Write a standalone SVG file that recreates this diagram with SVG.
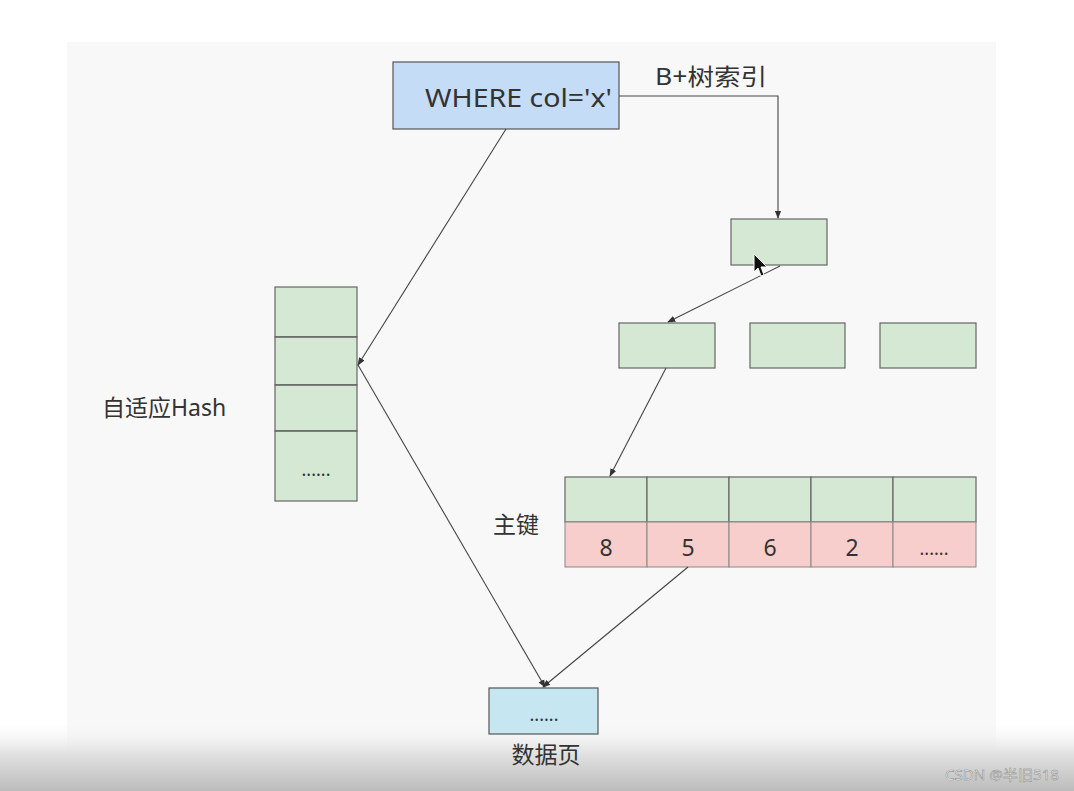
<svg xmlns="http://www.w3.org/2000/svg" width="1074" height="791" viewBox="0 0 1074 791">
<defs>
<linearGradient id="bot" x1="0" y1="0" x2="0" y2="1">
<stop offset="0" stop-color="#f8f8f8" stop-opacity="0"/>
<stop offset="0.45" stop-color="#e2e2e2"/>
<stop offset="1" stop-color="#bcbcbc"/>
</linearGradient>
<marker id="arr" viewBox="0 0 10 10" refX="9" refY="5" markerWidth="8" markerHeight="8" orient="auto" markerUnits="userSpaceOnUse">
<path d="M0,1 L10,5 L0,9 Z" fill="#333"/>
</marker>
<style>
.t{font-family:"Noto Sans","Noto Sans CJK SC",sans-serif;fill:#333;}
.g{fill:#d5e8d4;stroke:#666;stroke-width:1.2;}
.p{fill:#f8cecc;stroke:#888;stroke-width:1;}
.c{fill:none;stroke:#444;stroke-width:1.1;}
</style>
</defs>
<rect x="0" y="0" width="1074" height="791" fill="#ffffff"/>
<rect x="67" y="42" width="929" height="749" fill="#f8f8f8"/>
<rect x="0" y="722" width="1074" height="69" fill="url(#bot)"/>

<g id="where">
<rect x="393" y="62" width="226" height="67" fill="#c5dcf6" stroke="#555" stroke-width="1.2"/>
<text class="t" x="425" y="107" font-size="25" textLength="187" lengthAdjust="spacingAndGlyphs" fill="#2a3440">WHERE col='x'</text>
</g>
<g id="blabel"><text class="t" x="655" y="85" font-size="23" textLength="112" lengthAdjust="spacingAndGlyphs">B+树索引</text></g>

<g id="root"><rect class="g" x="731" y="219" width="96" height="46"/></g>
<g id="l2a"><rect class="g" x="619" y="323" width="96" height="45"/></g>
<g id="l2b"><rect class="g" x="750" y="323" width="95" height="45"/></g>
<g id="l2c"><rect class="g" x="880" y="323" width="96" height="45"/></g>

<g id="keys">
<rect class="g" x="565" y="477" width="82" height="45" stroke="#888"/>
<rect class="g" x="647" y="477" width="82" height="45" stroke="#888"/>
<rect class="g" x="729" y="477" width="82" height="45" stroke="#888"/>
<rect class="g" x="811" y="477" width="82" height="45" stroke="#888"/>
<rect class="g" x="893" y="477" width="83" height="45" stroke="#888"/>
<rect class="p" x="565" y="522" width="82" height="45"/>
<rect class="p" x="647" y="522" width="82" height="45"/>
<rect class="p" x="729" y="522" width="82" height="45"/>
<rect class="p" x="811" y="522" width="82" height="45"/>
<rect class="p" x="893" y="522" width="83" height="45"/>
<text class="t" x="606" y="556" font-size="23" text-anchor="middle">8</text>
<text class="t" x="688" y="556" font-size="23" text-anchor="middle">5</text>
<text class="t" x="770" y="556" font-size="23" text-anchor="middle">6</text>
<text class="t" x="852" y="556" font-size="23" text-anchor="middle">2</text>
<text class="t" x="934" y="555" font-size="18" text-anchor="middle">......</text>
</g>
<g id="pklabel"><text class="t" x="493" y="533" font-size="23">主键</text></g>

<g id="hash">
<rect class="g" x="275" y="287" width="82" height="50" stroke="#999"/>
<rect class="g" x="275" y="337" width="82" height="48" stroke="#999"/>
<rect class="g" x="275" y="385" width="82" height="46" stroke="#999"/>
<rect class="g" x="275" y="431" width="82" height="70" stroke="#999"/>
<line x1="275" y1="337" x2="357" y2="337" stroke="#666"/>
<line x1="275" y1="385" x2="357" y2="385" stroke="#666"/>
<line x1="275" y1="431" x2="357" y2="431" stroke="#666"/>
<text class="t" x="316" y="476" font-size="18" text-anchor="middle">......</text>
</g>
<g id="hashlabel"><text class="t" x="102" y="416" font-size="23">自适应Hash</text></g>

<g id="page">
<rect x="489" y="688" width="109" height="46" fill="#c6e6f2" stroke="#555" stroke-width="1.2"/>
<text class="t" x="544" y="721" font-size="18" text-anchor="middle">......</text>
<text class="t" x="546" y="763" font-size="23" text-anchor="middle">数据页</text>
</g>

<g id="connectors">
<polyline class="c" points="619,96 778,96 778,218" marker-end="url(#arr)" stroke="#777"/>
<line class="c" x1="780" y1="266" x2="668" y2="322" marker-end="url(#arr)"/>
<line class="c" x1="666" y1="368" x2="610" y2="476" marker-end="url(#arr)"/>
<line class="c" x1="688" y1="567" x2="543" y2="687" marker-end="url(#arr)"/>
<line class="c" x1="506" y1="129" x2="358" y2="365" marker-end="url(#arr)"/>
<line class="c" x1="358" y1="365" x2="545" y2="687" marker-end="url(#arr)"/>
</g>

<g id="cursor">
<polygon points="754,254 754,272 758,268 761,276 764,275 761,267 767,267 Z" fill="#111" stroke="#fff" stroke-width="1"/>
</g>

<g id="watermark">
<text x="945" y="780" font-family="'Noto Sans','Noto Sans CJK SC',sans-serif" font-size="14" textLength="114" lengthAdjust="spacingAndGlyphs" fill="#f4f4f4" stroke="#8a8a8a" stroke-width="0.5">CSDN @半旧518</text>
</g>
</svg>
